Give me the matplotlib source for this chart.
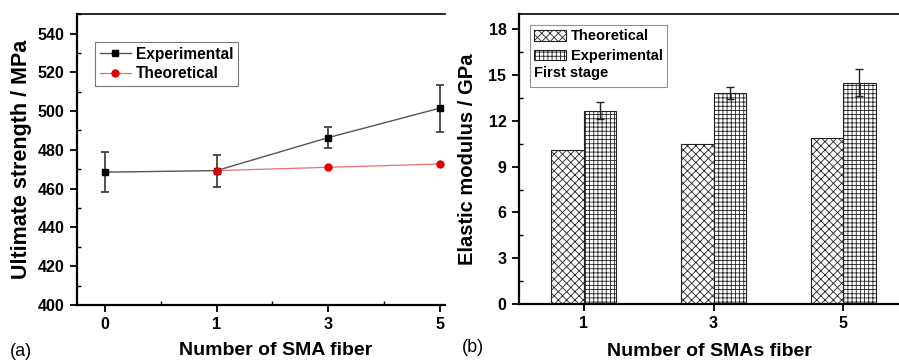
import numpy as np
import matplotlib
matplotlib.use("Agg")
import matplotlib.pyplot as plt
from matplotlib.ticker import MultipleLocator, FixedLocator
from matplotlib.patches import Patch
from matplotlib.lines import Line2D

plt.rcParams['font.family'] = ['Liberation Sans', 'DejaVu Sans']
plt.rcParams['font.weight'] = 'bold'
plt.rcParams['hatch.linewidth'] = 0.6

# (a) ultimate strength
fiber_a = ['0', '1', '3', '5']
exp_strength = [468.5, 469.3, 486.3, 501.5]
exp_strength_err = [10.2, 8.3, 5.5, 12.2]
theo_fiber = ['1', '3', '5']
theo_strength = [469.3, 471.0, 472.7]

# (b) elastic modulus
fiber_b = ['1', '3', '5']
theo_modulus = [10.1, 10.45, 10.85]
exp_modulus = [12.65, 13.8, 14.5]
exp_modulus_err = [0.55, 0.4, 0.9]

fig = plt.figure(figsize=(8.99, 3.6), dpi=100)

def style_axes(ax):
    ax.spines['right'].set_visible(False)
    for s in ['left', 'bottom']:
        ax.spines[s].set_linewidth(1.6)
    ax.spines['top'].set_linewidth(1.2)
    ax.tick_params(which='major', direction='out', length=5, width=1.3, labelsize=11.5, pad=4)
    ax.tick_params(which='minor', direction='in', length=3, width=1.0)
    for lbl in ax.get_xticklabels() + ax.get_yticklabels():
        lbl.set_fontweight('bold')

# ---- left panel
ax1 = fig.add_axes([0.0857, 0.1528, 0.409, 0.808])
xa = np.arange(len(fiber_a))
ax1.errorbar(xa, exp_strength, yerr=exp_strength_err, color='#555555', lw=1.0,
             marker='s', ms=4.2, mfc='black', mec='black', ecolor='#333333',
             elinewidth=1.2, capsize=3, capthick=1.2, zorder=3)
xt = np.array([fiber_a.index(f) for f in theo_fiber])
ax1.plot(xt, theo_strength, color='#e87070', lw=0.9, marker='o', ms=5,
         mfc='#e00000', mec='#e00000', zorder=4)
ax1.set_xlim(-0.25, 3.045)
ax1.set_ylim(400, 550)
ax1.set_xticks(xa)
ax1.set_xticklabels(fiber_a)
ax1.xaxis.set_minor_locator(FixedLocator([0.5, 1.5, 2.5]))
ax1.set_yticks(np.arange(400, 541, 20))
ax1.yaxis.set_minor_locator(MultipleLocator(10))
style_axes(ax1)
ax1.set_ylabel('Ultimate strength / MPa', fontsize=15.5, fontweight='bold', labelpad=4)
ax1.set_xlabel('Number of SMA fiber', fontsize=14, fontweight='bold')
ax1.xaxis.set_label_coords(0.54, -0.128)
leg_handles = [Line2D([], [], color='#555555', lw=1.0, marker='s', ms=4.2, mfc='black', mec='black'),
               Line2D([], [], color='#e87070', lw=0.9, marker='o', ms=5, mfc='#e00000', mec='#e00000')]
leg1 = ax1.legend(leg_handles, ['Experimental', 'Theoretical'], loc='upper left',
                  bbox_to_anchor=(0.049, 0.904), borderaxespad=0, fontsize=11.2,
                  frameon=True, fancybox=False, edgecolor='#555555', handlelength=2.0,
                  borderpad=0.3, labelspacing=0.3, handletextpad=0.3)
leg1.get_frame().set_linewidth(0.8)
for t in leg1.get_texts():
    t.set_fontweight('bold')
fig.text(10 / 899, 1 - 351 / 360, '(a)', fontsize=13, fontweight='normal', va='center', ha='left')

# ---- right panel
ax2 = fig.add_axes([0.5773, 0.1556, 0.4227, 0.8056])
xb = np.arange(len(fiber_b))
w = 0.25
ax2.bar(xb - w / 2, theo_modulus, width=w, color='white', edgecolor='#222222',
        hatch='xxxx', linewidth=0.8, label='Theoretical')
ax2.bar(xb + w / 2, exp_modulus, width=w, color='white', edgecolor='#222222',
        hatch='++++', linewidth=0.8, label='Experimental')
ax2.errorbar(xb + w / 2, exp_modulus, yerr=exp_modulus_err, fmt='none', ecolor='#222222',
             elinewidth=1.0, capsize=3, capthick=1.0)
ax2.set_xlim(-0.5, 2.43)
ax2.set_ylim(0, 19)
ax2.set_xticks(xb)
ax2.set_xticklabels(fiber_b)
ax2.set_yticks(np.arange(0, 19, 3))
ax2.yaxis.set_minor_locator(MultipleLocator(1.5))
style_axes(ax2)
ax2.set_ylabel('Elastic modulus / GPa', fontsize=14.5, fontweight='bold', labelpad=8)
ax2.set_xlabel('Number of SMAs fiber', fontsize=14, fontweight='bold', labelpad=8)
handles = [Patch(facecolor='white', edgecolor='#222222', hatch='xxxx', lw=0.8),
           Patch(facecolor='white', edgecolor='#222222', hatch='++++', lw=0.8),
           Patch(visible=False)]
leg2 = ax2.legend(handles, ['Theoretical', 'Experimental', ' '], loc='upper left',
                  bbox_to_anchor=(0.029, 0.962), borderaxespad=0, fontsize=10.5,
                  frameon=True, fancybox=False, edgecolor='#777777', handlelength=2.2,
                  handleheight=0.75, borderpad=0.3, labelspacing=0.4, handletextpad=0.3)
leg2.get_frame().set_linewidth(0.8)
for t in leg2.get_texts():
    t.set_fontweight('bold')
fig.text(534 / 899, 1 - 73 / 360, 'First stage', fontsize=10.5, fontweight='bold',
         va='center', ha='left')
fig.text(462 / 899, 1 - 347 / 360, '(b)', fontsize=13, fontweight='normal', va='center', ha='left')

fig.savefig('out.png', dpi=100)
